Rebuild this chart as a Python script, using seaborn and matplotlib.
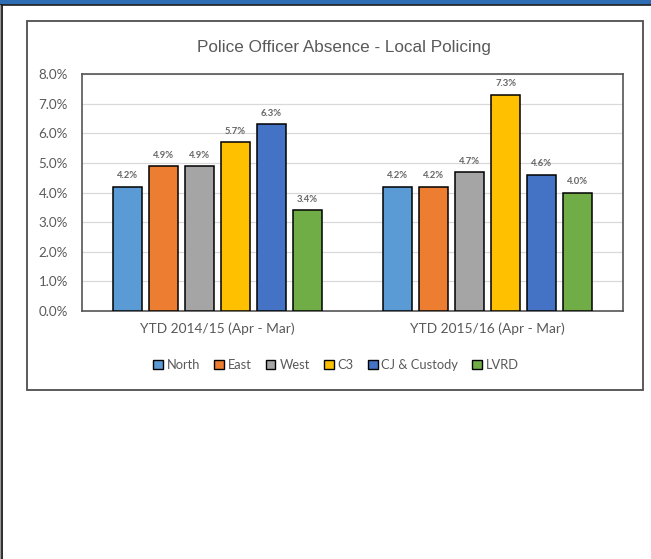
import matplotlib
matplotlib.use("Agg")
import matplotlib.pyplot as plt
from matplotlib.patches import Rectangle
from matplotlib.lines import Line2D
import seaborn as sns
import pandas as pd

# Data: absence rate (%) by policing unit and financial year
periods = ["YTD 2014/15 (Apr - Mar)", "YTD 2015/16 (Apr - Mar)"]
units = ["North", "East", "West", "C3", "CJ & Custody", "LVRD"]
rate_2014_15 = [4.2, 4.9, 4.9, 5.7, 6.3, 3.4]
rate_2015_16 = [4.2, 4.2, 4.7, 7.3, 4.6, 4.0]
unit_colors = ["#5B9BD5", "#ED7D31", "#A5A5A5", "#FFC000", "#4472C4", "#70AD47"]
y_ticks = [0, 1, 2, 3, 4, 5, 6, 7, 8]

df = pd.DataFrame({
    "period": [periods[0]] * len(units) + [periods[1]] * len(units),
    "unit": units * 2,
    "rate": rate_2014_15 + rate_2015_16,
})

W, H, DPI = 651, 559, 100
sns.set_theme(style="white")
plt.rcParams["font.family"] = ["Lato", "DejaVu Sans"]

fig = plt.figure(figsize=(W / DPI, H / DPI), dpi=DPI)
fig.patch.set_facecolor("white")

def fx(px):
    return px / W

def fy(py):
    return 1 - py / H

# Page frame: blue band on top, rule on the left
fig.add_artist(Rectangle((0, fy(4.5)), 1, 4.5 / H, transform=fig.transFigure,
                         facecolor="#2E6DB4", edgecolor="none"))
fig.add_artist(Line2D([0, 1], [fy(5), fy(5)], transform=fig.transFigure,
                      color="#1F1F1F", lw=1.2))
fig.add_artist(Line2D([fx(2), fx(2)], [0, fy(4.5)], transform=fig.transFigure,
                      color="#1A1A1A", lw=1.3))
fig.add_artist(Line2D([fx(0.3), fx(0.3)], [0, fy(4.5)], transform=fig.transFigure,
                      color="#9A9A9A", lw=0.8))

# Chart area border
fig.add_artist(Rectangle((fx(27), fy(390)), fx(643) - fx(27), fy(21) - fy(390),
                         transform=fig.transFigure, facecolor="none",
                         edgecolor="#4D4D4D", lw=1.3))

ax = fig.add_axes([fx(82), fy(311), fx(623) - fx(82), fy(74) - fy(311)])

sns.barplot(data=df, x="period", y="rate", hue="unit", hue_order=units,
            palette=unit_colors, width=0.8, gap=0.2, edgecolor="black",
            linewidth=1.1, saturation=1, ax=ax, zorder=3, legend=False)

for container in ax.containers:
    vals = [b.get_height() for b in container]
    ax.bar_label(container, labels=[f"{v:.1f}%" for v in vals], padding=4.5,
                 fontsize=6.8, color="#666666", fontweight="bold")

ax.set_ylim(0, 8)
ax.set_xlim(-0.5, 1.5)
ax.set_yticks(y_ticks)
ax.set_yticklabels([f"{v:.1f}%" for v in y_ticks])
ax.yaxis.grid(True, color="#D9D9D9", lw=0.9, zorder=0)
ax.set_axisbelow(True)
ax.tick_params(axis="y", length=0, labelsize=9.6, colors="#595959", pad=10)
ax.tick_params(axis="x", length=0, labelsize=9.9, colors="#595959", pad=8)
ax.set_xlabel("")
ax.set_ylabel("")
for s in ax.spines.values():
    s.set_visible(True)
    s.set_color("#555555")
    s.set_linewidth(1.2)

fig.text(fx(344), fy(52), "Police Officer Absence - Local Policing",
         ha="center", va="baseline", fontsize=12.3, color="#595959",
         family=["Liberation Sans", "DejaVu Sans"])

handles = [Rectangle((0, 0), 1, 1, facecolor=c, edgecolor="black", lw=1.0)
           for c in unit_colors]
fig.legend(handles, units, loc="center", bbox_to_anchor=(fx(336), fy(365)),
           ncol=6, frameon=False, fontsize=9.3, labelcolor="#595959",
           handlelength=0.75, handleheight=0.75, handletextpad=0.3,
           columnspacing=1.1, borderaxespad=0)

fig.savefig("out.png", dpi=DPI, facecolor="white")
